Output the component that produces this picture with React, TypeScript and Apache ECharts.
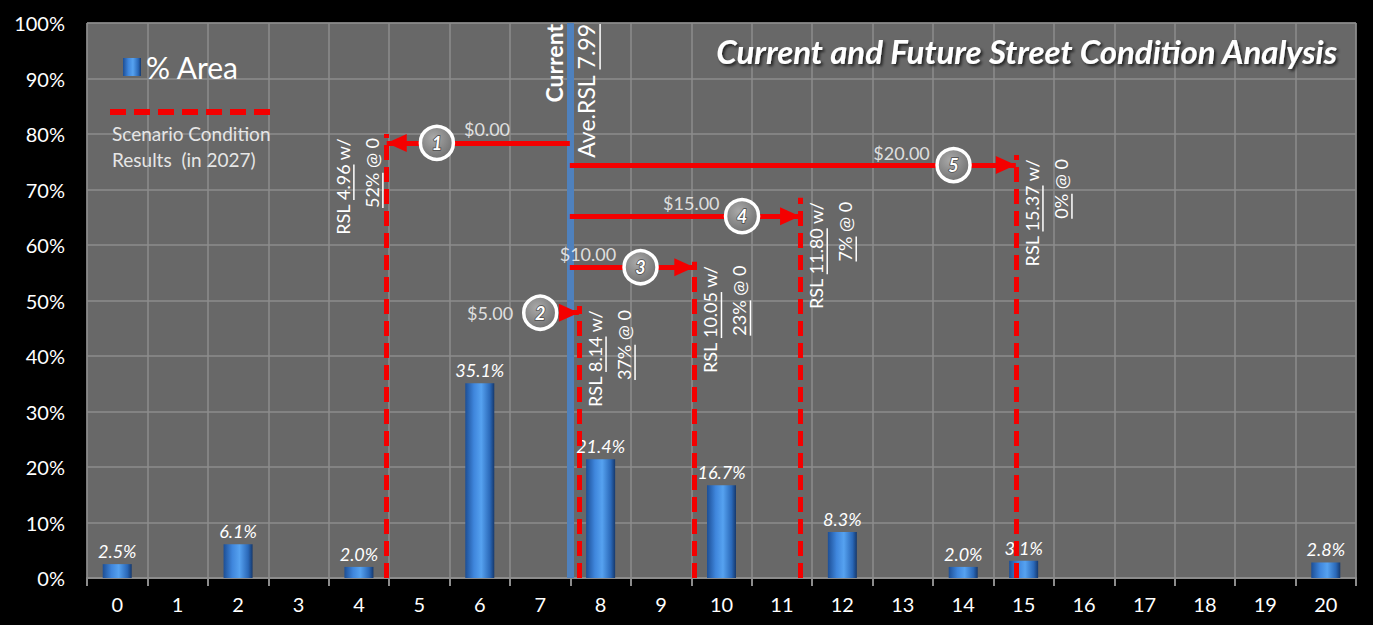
import React, { useEffect, useRef } from "react";
import * as echarts from "echarts";

const FONT = "Lato, 'Open Sans', sans-serif";

// ---- data ----
const categories = ["0","1","2","3","4","5","6","7","8","9","10","11","12","13","14","15","16","17","18","19","20"];
const areaPct = [2.5,0,6.1,0,2.0,0,35.1,0,21.4,0,16.7,0,8.3,0,2.0,3.1,0,0,0,0,2.8];
const yMin = 0;
const yMax = 100;
const yStep = 10;
const currentRSL = 7.99;
const scenarioNo = [1,2,3,4,5];
const scenarioCost = [0,5,10,15,20];
const scenarioRSL = [4.96,8.14,10.05,11.80,15.37];
const scenarioPctAtZero = [52,37,23,7,0];
const arrowLevel = [78.4,47.8,56.0,65.2,74.4];
const resultTop = [80,49,57,68.5,76.2];
// annotation anchors (RSL units / % units)
const circleAt = [5.79,7.5,9.16,10.84,14.34];
const costLabelX = [6.62,6.67,8.29,10.0,13.48];
const costLabelY = [80.9,47.8,58.4,67.6,76.6];
const labelSide = ["left","right","right","right","right"];
const TITLE = "Current and Future Street Condition Analysis";

const RED = "#f40000";
const GRID = "#8c8c8c";
// arrow head whose tip sits at the centre of its symbol box
const ARROW = "path://M10,0 M10,20 L20,40 L0,40 Z";

const measureCtx = typeof document !== "undefined" ? document.createElement("canvas").getContext("2d") : null;
function tw(s: string, font: string) {
  if (!measureCtx) return s.length * 9;
  measureCtx.font = font;
  return measureCtx.measureText(s).width;
}

type Part = { t: string; u?: boolean };

function rotatedLabel(gx: number, gy: number, lines: Part[][], fontSizes: number[], weights: string[], gap: number, color = "#ffffff") {
  const children: any[] = [];
  lines.forEach((parts, li) => {
    const fs = fontSizes[li];
    const font = `normal ${weights[li]} ${fs}px ${FONT}`;
    const total = parts.reduce((a, p) => a + tw(p.t, font), 0);
    let cur = -total;
    const ly = li * gap;
    parts.forEach((p) => {
      const w = tw(p.t, font);
      children.push({
        type: "text",
        x: cur,
        y: ly,
        style: { text: p.t, font, fill: color, align: "left", verticalAlign: "middle" },
      });
      if (p.u) {
        children.push({
          type: "line",
          shape: { x1: cur, y1: ly + fs * 0.62, x2: cur + w, y2: ly + fs * 0.62 },
          style: { stroke: color, lineWidth: 1.5 },
        });
      }
      cur += w;
    });
  });
  return { type: "group", x: gx, y: gy, rotation: Math.PI / 2, children, z: 50 };
}

export default function App() {
  const ref = useRef<HTMLDivElement>(null);

  useEffect(() => {
    if (!ref.current) return;
    const chart = echarts.init(ref.current, null, { renderer: "svg" });

    const barColor = new echarts.graphic.LinearGradient(0, 0, 1, 0, [
      { offset: 0, color: "#1d4f96" },
      { offset: 0.3, color: "#3f86dc" },
      { offset: 0.55, color: "#56a2f0" },
      { offset: 0.85, color: "#2a68b8" },
      { offset: 1, color: "#16396d" },
    ]);

    const option: any = {
      animation: false,
      backgroundColor: "#000000",
      textStyle: { fontFamily: FONT },
      title: {
        text: TITLE,
        right: 30,
        top: 29,
        textStyle: {
          color: "#ffffff",
          fontSize: 33,
          fontStyle: "italic",
          fontWeight: "bold",
          fontFamily: FONT,
          textShadowColor: "rgba(0,0,0,0.7)",
          textShadowBlur: 3,
          textShadowOffsetX: 2,
          textShadowOffsetY: 2,
        },
      },
      legend: {
        data: ["% Area"],
        left: 118,
        top: 47,
        icon: "rect",
        itemWidth: 18,
        itemHeight: 18,
        selectedMode: false,
        textStyle: { color: "#ffffff", fontSize: 30, fontFamily: FONT },
      },
      grid: {
        left: 87,
        right: 17,
        top: 23,
        bottom: 47,
        show: true,
        backgroundColor: "#686868",
        borderColor: GRID,
        borderWidth: 1,
      },
      xAxis: [
        {
          type: "category",
          data: categories,
          boundaryGap: true,
          axisLine: { lineStyle: { color: GRID, width: 2 } },
          axisTick: { show: true, interval: 0, length: 8, lineStyle: { color: GRID, width: 2 } },
          axisLabel: { color: "#ffffff", fontSize: 20, margin: 16, interval: 0, fontFamily: FONT },
          splitLine: { show: true, interval: 0, lineStyle: { color: GRID, width: 1.5 } },
        },
        { type: "value", min: 0, max: categories.length, show: false },
      ],
      yAxis: {
        type: "value",
        min: yMin,
        max: yMax,
        interval: yStep,
        axisLabel: { formatter: "{value}%", color: "#ffffff", fontSize: 20, margin: 22, fontFamily: FONT },
        axisLine: { show: false },
        axisTick: { show: false },
        splitLine: { lineStyle: { color: GRID, width: 1.5 } },
      },
      series: [
        {
          name: "% Area",
          type: "bar",
          data: areaPct,
          barWidth: "48%",
          itemStyle: { color: barColor },
          label: {
            show: true,
            position: "top",
            distance: 4,
            color: "#ffffff",
            fontSize: 18,
            fontStyle: "italic",
            fontFamily: FONT,
            formatter: (p: any) => (p.value > 0 ? `${p.value.toFixed(1)}%` : ""),
          },
          z: 2,
        },
        {
          name: "current",
          type: "line",
          xAxisIndex: 1,
          data: [],
          z: 4,
          markLine: {
            silent: true,
            symbol: ["none", "none"],
            label: { show: false },
            lineStyle: { color: "#4f81bd", width: 7, type: "solid" },
            data: [[{ coord: [currentRSL, yMin] }, { coord: [currentRSL, yMax] }]],
          },
        },
        {
          name: "results",
          type: "line",
          xAxisIndex: 1,
          data: [],
          z: 5,
          markLine: {
            silent: true,
            symbol: ["none", "none"],
            label: { show: false },
            lineStyle: { color: RED, width: 5, type: [15, 7] },
            data: scenarioRSL.map((r, i) => [{ coord: [r, yMin] }, { coord: [r, resultTop[i]] }]),
          },
        },
        {
          name: "arrows",
          type: "line",
          xAxisIndex: 1,
          data: [],
          z: 6,
          markLine: {
            silent: true,
            symbol: ["none", ARROW],
            symbolSize: [18, 40],
            label: { show: false },
            lineStyle: { color: RED, width: 5, type: "solid" },
            data: scenarioRSL.map((r, i) => [{ coord: [currentRSL, arrowLevel[i]] }, { coord: [r, arrowLevel[i]] }]),
          },
        },
        {
          name: "circles",
          type: "scatter",
          xAxisIndex: 1,
          z: 8,
          symbol: "circle",
          symbolSize: 33,
          data: circleAt.map((x, i) => [x, arrowLevel[i]]),
          itemStyle: {
            color: new echarts.graphic.RadialGradient(0.4, 0.35, 0.7, [
              { offset: 0, color: "#a9a9a9" },
              { offset: 1, color: "#6e6e6e" },
            ]),
            borderColor: "#ffffff",
            borderWidth: 3.5,
            opacity: 1,
          },
          label: {
            show: true,
            position: "inside",
            formatter: (p: any) => String(scenarioNo[p.dataIndex]),
            color: "#ffffff",
            fontSize: 18,
            fontStyle: "italic",
            fontWeight: "bold",
            fontFamily: FONT,
            textBorderColor: "#4a4a4a",
            textBorderWidth: 1.5,
          },
        },
        {
          name: "costs",
          type: "scatter",
          xAxisIndex: 1,
          z: 9,
          symbol: "circle",
          symbolSize: 1,
          data: costLabelX.map((x, i) => [x, costLabelY[i]]),
          itemStyle: { color: "rgba(0,0,0,0)" },
          label: {
            show: true,
            position: "inside",
            formatter: (p: any) => `$${scenarioCost[p.dataIndex].toFixed(2)}`,
            color: "#ffffff",
            fontSize: 18,
            fontFamily: FONT,
          },
        },
      ],
    };

    chart.setOption(option);

    const toPx = (x: number, y: number) =>
      chart.convertToPixel({ xAxisIndex: 1, yAxisIndex: 0 } as any, [x, y]) as number[];

    const graphics: any[] = [];
    // scenario result labels
    scenarioRSL.forEach((r, i) => {
      const [dx, dy] = toPx(r, resultTop[i]);
      const gx = labelSide[i] === "left" ? dx - 44 : dx + 16;
      graphics.push(
        rotatedLabel(
          gx,
          dy + 4,
          [
            [{ t: "RSL " }, { t: r.toFixed(2), u: true }, { t: " w/" }],
            [{ t: `${scenarioPctAtZero[i]}%`, u: true }, { t: " @ 0" }],
          ],
          [18, 18],
          ["normal", "normal"],
          29
        )
      );
    });
    // current label
    const [bx, by] = toPx(currentRSL, yMax);
    graphics.push(
      rotatedLabel(
        bx - 16,
        by + 1,
        [[{ t: "Current" }], [{ t: "Ave.RSL " }, { t: currentRSL.toFixed(2), u: true }]],
        [23, 23],
        ["bold", "normal"],
        32
      )
    );
    // scenario legend
    graphics.push({
      type: "line",
      shape: { x1: 110, y1: 112, x2: 277, y2: 112 },
      style: { stroke: RED, lineWidth: 6, lineDash: [16, 8] },
      z: 50,
    });
    graphics.push({
      type: "text",
      x: 112,
      y: 133,
      style: { text: "Scenario Condition", font: `normal 19px ${FONT}`, fill: "#e6e6e6", align: "left", verticalAlign: "middle" },
      z: 50,
    });
    graphics.push({
      type: "text",
      x: 112,
      y: 159,
      style: { text: "Results  (in 2027)", font: `normal 19px ${FONT}`, fill: "#e6e6e6", align: "left", verticalAlign: "middle" },
      z: 50,
    });

    chart.setOption({ graphic: graphics });

    return () => chart.dispose();
  }, []);

  return (
    <div
      ref={ref}
      style={{ position: "fixed", left: 0, top: 0, width: 1373, height: 625, background: "#000" }}
    />
  );
}
